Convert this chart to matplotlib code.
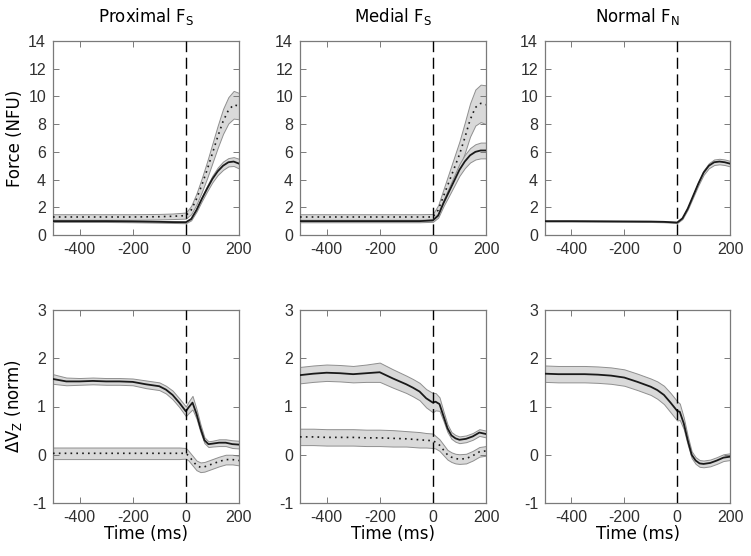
from matplotlib import pyplot as plt
import numpy as np

# time grids (ms)
t_force = [-500, -400, -300, -200, -100, -50, 0, 20, 40, 60, 80, 100, 120, 140, 160, 180, 200]
t_dv = [-500, -450, -400, -350, -300, -250, -200, -150, -100, -75, -50, -25, 0, 10, 25, 40, 55, 70, 85, 100, 125, 150, 175, 200]

# top row: force (NFU)
prox_solid = [1.0, 1.0, 1.0, 0.98, 0.95, 0.93, 0.92, 1.15, 1.8, 2.6, 3.35, 4.05, 4.6, 5.0, 5.25, 5.3, 5.15]
prox_solid_sd = [0.06, 0.06, 0.06, 0.06, 0.06, 0.06, 0.07, 0.09, 0.12, 0.16, 0.2, 0.24, 0.27, 0.3, 0.3, 0.32, 0.35]
prox_dot = [1.3, 1.3, 1.3, 1.3, 1.32, 1.35, 1.4, 1.8, 2.6, 3.6, 4.7, 5.9, 7.1, 8.2, 9.0, 9.4, 9.3]
prox_dot_sd = [0.2, 0.2, 0.2, 0.2, 0.2, 0.2, 0.22, 0.3, 0.4, 0.5, 0.6, 0.7, 0.8, 0.9, 0.95, 1.0, 0.95]

med_solid = [1.0, 1.0, 1.0, 1.0, 1.0, 1.0, 1.05, 1.4, 2.3, 3.1, 3.9, 4.7, 5.3, 5.75, 6.0, 6.1, 6.1]
med_solid_sd = [0.08, 0.08, 0.08, 0.08, 0.08, 0.08, 0.1, 0.15, 0.22, 0.3, 0.37, 0.43, 0.48, 0.52, 0.55, 0.57, 0.57]
med_dot = [1.3, 1.3, 1.3, 1.3, 1.3, 1.3, 1.3, 1.8, 2.8, 3.8, 4.8, 5.8, 7.0, 8.3, 9.2, 9.5, 9.4]
med_dot_sd = [0.2, 0.2, 0.2, 0.2, 0.2, 0.2, 0.22, 0.35, 0.5, 0.65, 0.8, 0.95, 1.1, 1.2, 1.3, 1.35, 1.4]

norm_solid = [1.0, 1.0, 0.99, 0.98, 0.97, 0.95, 0.9, 1.2, 1.9, 2.8, 3.7, 4.5, 5.0, 5.25, 5.3, 5.25, 5.15]
norm_solid_sd = [0.03, 0.03, 0.03, 0.03, 0.03, 0.03, 0.04, 0.05, 0.07, 0.1, 0.13, 0.16, 0.18, 0.2, 0.2, 0.2, 0.2]

# bottom row: dVz (norm)
prox_dv = [1.57, 1.52, 1.52, 1.53, 1.52, 1.52, 1.51, 1.46, 1.42, 1.35, 1.24, 1.08, 0.9, 0.98, 1.08, 0.85, 0.55, 0.3, 0.22, 0.23, 0.25, 0.25, 0.22, 0.21]
prox_dv_sd = [0.1, 0.08, 0.07, 0.07, 0.07, 0.07, 0.07, 0.08, 0.08, 0.08, 0.09, 0.09, 0.1, 0.12, 0.14, 0.1, 0.08, 0.06, 0.06, 0.06, 0.07, 0.07, 0.08, 0.08]
prox_dv_dot = [0.03, 0.03, 0.03, 0.03, 0.03, 0.03, 0.03, 0.03, 0.03, 0.03, 0.03, 0.03, 0.03, -0.02, -0.12, -0.22, -0.26, -0.25, -0.22, -0.19, -0.14, -0.1, -0.1, -0.12]
prox_dv_dot_sd = [0.12, 0.12, 0.12, 0.12, 0.12, 0.12, 0.12, 0.12, 0.12, 0.12, 0.12, 0.12, 0.11, 0.1, 0.1, 0.1, 0.1, 0.1, 0.1, 0.1, 0.1, 0.1, 0.1, 0.1]

med_dv = [1.65, 1.68, 1.7, 1.69, 1.67, 1.69, 1.71, 1.58, 1.46, 1.39, 1.31, 1.17, 1.08, 1.1, 1.05, 0.8, 0.55, 0.4, 0.34, 0.31, 0.33, 0.38, 0.46, 0.43]
med_dv_sd = [0.17, 0.17, 0.17, 0.17, 0.17, 0.18, 0.2, 0.19, 0.18, 0.18, 0.18, 0.19, 0.2, 0.18, 0.14, 0.1, 0.08, 0.07, 0.07, 0.07, 0.07, 0.07, 0.07, 0.07]
med_dv_dot = [0.37, 0.37, 0.36, 0.36, 0.36, 0.35, 0.35, 0.34, 0.33, 0.32, 0.31, 0.3, 0.29, 0.26, 0.2, 0.1, 0.0, -0.05, -0.08, -0.09, -0.08, -0.02, 0.06, 0.08]
med_dv_dot_sd = [0.17, 0.17, 0.17, 0.17, 0.17, 0.17, 0.17, 0.17, 0.16, 0.16, 0.16, 0.15, 0.15, 0.13, 0.12, 0.11, 0.1, 0.1, 0.1, 0.1, 0.1, 0.1, 0.1, 0.1]

norm_dv = [1.68, 1.67, 1.67, 1.67, 1.66, 1.64, 1.6, 1.51, 1.41, 1.34, 1.24, 1.08, 0.91, 0.89, 0.65, 0.3, 0.0, -0.12, -0.18, -0.19, -0.17, -0.12, -0.06, -0.04]
norm_dv_sd = [0.17, 0.17, 0.17, 0.17, 0.17, 0.17, 0.17, 0.17, 0.17, 0.18, 0.19, 0.2, 0.2, 0.17, 0.12, 0.09, 0.07, 0.07, 0.07, 0.07, 0.07, 0.07, 0.07, 0.07]

titles = ['Proximal F$_\\mathregular{S}$', 'Medial F$_\\mathregular{S}$', 'Normal F$_\\mathregular{N}$']

LINE = '#1a1a1a'
FILL = '#d9d9d9'
EDGE = '#8f8f8f'
SPINE = '#7a7a7a'
TEXT = '#303030'


def band(ax, t, m, sd, style):
    t = np.array(t)
    m = np.array(m)
    sd = np.array(sd)
    ax.fill_between(t, m - sd, m + sd, facecolor=FILL, edgecolor=EDGE, linewidth=0.7, zorder=1)
    if style == 'dot':
        ax.plot(t, m, color=LINE, linestyle=(0, (1, 2.5)), linewidth=1.2, zorder=3)
    else:
        ax.plot(t, m, color=LINE, linewidth=1.3, zorder=3)


def style_axes(ax, ylim, yticks):
    ax.set_xlim(-500, 200)
    ax.set_ylim(*ylim)
    ax.set_xticks([-400, -200, 0, 200])
    ax.set_yticks(yticks)
    ax.axvline(0, color='black', linestyle=(0, (8, 4)), linewidth=1.0, zorder=4)
    ax.tick_params(direction='in', top=True, right=True, length=4, width=0.7,
                   color=SPINE, labelcolor=TEXT, labelsize=11.5, pad=5)
    for lab in ax.get_xticklabels() + ax.get_yticklabels():
        lab.set_family('Liberation Sans')
    for s in ax.spines.values():
        s.set_color(SPINE)
        s.set_linewidth(0.9)


if __name__ == '__main__':
    plt.rcParams['font.family'] = ['DejaVu Sans']
    plt.rcParams['axes.unicode_minus'] = False
    fig = plt.figure(figsize=(7.51, 5.56), dpi=100)

    lefts = [53 / 751, 300 / 751, 545 / 751]
    widths = [186 / 751, 186 / 751, 185 / 751]
    top_b, top_h = 1 - 235 / 556, 194 / 556
    bot_b, bot_h = 1 - 503 / 556, 193 / 556

    top_axes = [fig.add_axes([l, top_b, w, top_h]) for l, w in zip(lefts, widths)]
    bot_axes = [fig.add_axes([l, bot_b, w, bot_h]) for l, w in zip(lefts, widths)]

    band(top_axes[0], t_force, prox_dot, prox_dot_sd, 'dot')
    band(top_axes[0], t_force, prox_solid, prox_solid_sd, 'solid')
    band(top_axes[1], t_force, med_dot, med_dot_sd, 'dot')
    band(top_axes[1], t_force, med_solid, med_solid_sd, 'solid')
    band(top_axes[2], t_force, norm_solid, norm_solid_sd, 'solid')

    band(bot_axes[0], t_dv, prox_dv_dot, prox_dv_dot_sd, 'dot')
    band(bot_axes[0], t_dv, prox_dv, prox_dv_sd, 'solid')
    band(bot_axes[1], t_dv, med_dv_dot, med_dv_dot_sd, 'dot')
    band(bot_axes[1], t_dv, med_dv, med_dv_sd, 'solid')
    band(bot_axes[2], t_dv, norm_dv, norm_dv_sd, 'solid')

    for ax, title in zip(top_axes, titles):
        style_axes(ax, (0, 14), range(0, 15, 2))
        ax.set_title(title, fontsize=12, color='black', pad=14)
    for ax in bot_axes:
        style_axes(ax, (-1, 3), [-1, 0, 1, 2, 3])
        ax.set_xlabel('Time (ms)', fontsize=12, color='black', labelpad=0)

    top_axes[0].set_ylabel('Force (NFU)', fontsize=12, color='black')
    top_axes[0].yaxis.set_label_coords(-0.155, 0.5)
    bot_axes[0].set_ylabel('\u0394V$_\\mathregular{Z}$ (norm)', fontsize=12, color='black')
    bot_axes[0].yaxis.set_label_coords(-0.155, 0.5)

    fig.savefig('out.png', dpi=100)
